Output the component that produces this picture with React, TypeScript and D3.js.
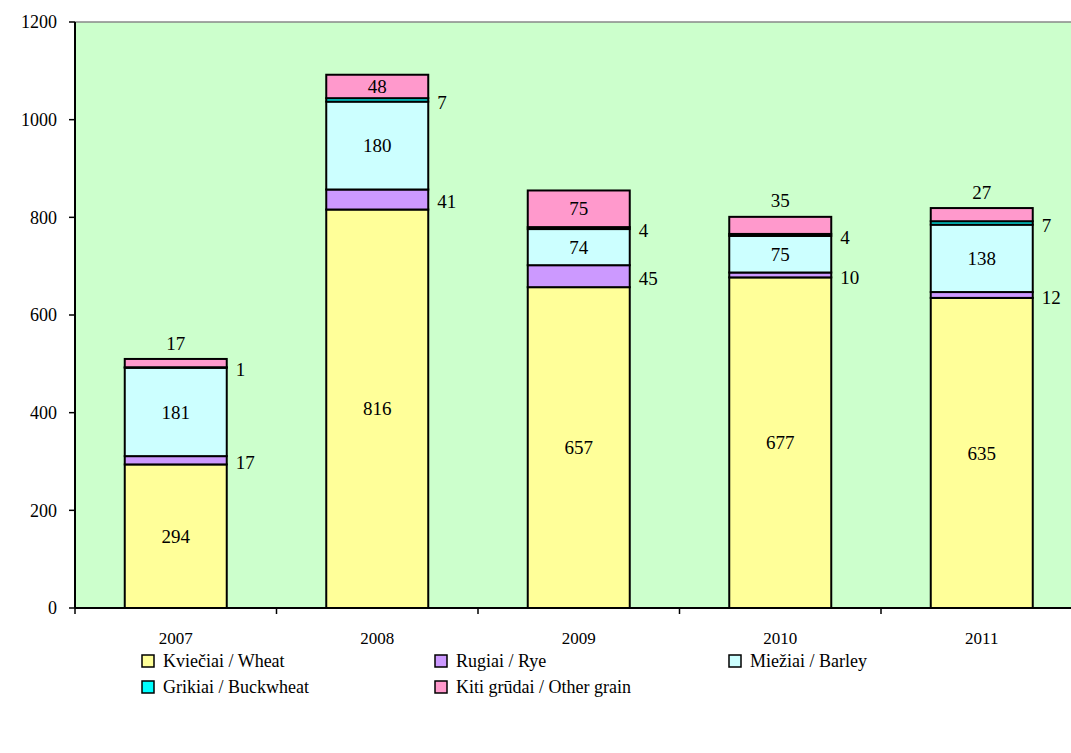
import React from "react";
import * as d3 from "d3";

const years = ["2007", "2008", "2009", "2010", "2011"];
const wheat = [294, 816, 657, 677, 635];
const rye = [17, 41, 45, 10, 12];
const barley = [181, 180, 74, 75, 138];
const buckwheat = [1, 7, 4, 4, 7];
const otherGrain = [17, 48, 75, 35, 27];
const seriesNames = ["Kviečiai / Wheat", "Rugiai / Rye", "Miežiai / Barley", "Grikiai / Buckwheat", "Kiti grūdai / Other grain"];
const yTicks = [0, 200, 400, 600, 800, 1000, 1200];

const colors = ["#FFFF99", "#CC99FF", "#CCFFFF", "#00FFFF", "#FF99CC"];
const labelModes = ["inside", "right", "inside", "right", "insideOrAbove"];

const FONT = "'Times New Roman', Times, 'Liberation Serif', 'DejaVu Serif', serif";

export default function App() {
  const W = 1071, H = 753;
  const left = 75, right = 1071, top = 22, bottom = 608;
  const x = d3.scaleBand().domain(years).range([left, 1082.5]).paddingInner(0).paddingOuter(0);
  const y = d3.scaleLinear().domain([0, 1200]).range([bottom, top]);
  const data = years.map((yr, i) => ({ year: yr, s0: wheat[i], s1: rye[i], s2: barley[i], s3: buckwheat[i], s4: otherGrain[i] }));
  const stack = d3.stack<any>().keys(["s0", "s1", "s2", "s3", "s4"]);
  const series = stack(data);
  const bw = 102;

  const legendItems = [
    { i: 0, x: 148, y: 661 },
    { i: 1, x: 441, y: 661 },
    { i: 2, x: 735, y: 661 },
    { i: 3, x: 148, y: 687 },
    { i: 4, x: 441, y: 687 },
  ];

  return (
    <svg width={W} height={H} style={{ position: "absolute", left: 0, top: 0, fontFamily: FONT }}>
      <rect x={left} y={top} width={right - left} height={bottom - top} fill="#CCFFCC" />
      <line x1={left} x2={right} y1={top} y2={top} stroke="#888" strokeWidth={1.5} />
      {series.map((s, si) =>
        s.map((d, di) => {
          const cx = x(years[di])! + x.bandwidth() / 2;
          return (
            <rect key={`r${si}-${di}`} x={cx - bw / 2} y={y(d[1])} width={bw} height={y(d[0]) - y(d[1])}
              fill={colors[si]} stroke="#000" strokeWidth={2} />
          );
        })
      )}
      {series.map((s, si) =>
        s.map((d, di) => {
          const cx = x(years[di])! + x.bandwidth() / 2;
          const v = d[1] - d[0];
          const mid = (y(d[0]) + y(d[1])) / 2;
          const mode = labelModes[si];
          let tx = cx, ty = mid, anchor = "middle";
          if (mode === "right") { tx = cx + bw / 2 + 9; anchor = "start"; ty = mid + 2; }
          else if (mode === "insideOrAbove" && v < 40) { ty = y(d[1]) - 16; }
          return (
            <text key={`t${si}-${di}`} x={tx} y={ty} dy="0.35em" textAnchor={anchor} style={{ fontFamily: FONT, fontSize: 19 }} fill="#000">{v}</text>
          );
        })
      )}
      <line x1={left} x2={left} y1={top} y2={bottom} stroke="#000" strokeWidth={2} />
      <line x1={left} x2={right} y1={bottom} y2={bottom} stroke="#000" strokeWidth={2} />
      {yTicks.map((t) => (
        <g key={`y${t}`}>
          <line x1={left - 6} x2={left} y1={y(t)} y2={y(t)} stroke="#000" strokeWidth={1.5} />
          <text x={left - 18} y={y(t)} dy="0.35em" textAnchor="end" style={{ fontFamily: FONT, fontSize: 18 }}>{t}</text>
        </g>
      ))}
      {years.map((yr) => (
        <g key={`x${yr}`}>
          <line x1={x(yr)!} x2={x(yr)!} y1={bottom} y2={bottom + 6} stroke="#000" strokeWidth={1.5} />
          <text x={x(yr)! + x.bandwidth() / 2} y={bottom + 36} textAnchor="middle" style={{ fontFamily: FONT, fontSize: 17 }}>{yr}</text>
        </g>
      ))}
      {legendItems.map((l) => (
        <g key={`l${l.i}`}>
          <rect x={l.x - 6} y={l.y - 6} width={12} height={12} fill={colors[l.i]} stroke="#000" strokeWidth={1.5} />
          <text x={l.x + 15} y={l.y} dy="0.35em" style={{ fontFamily: FONT, fontSize: 18 }}>{seriesNames[l.i]}</text>
        </g>
      ))}
    </svg>
  );
}
